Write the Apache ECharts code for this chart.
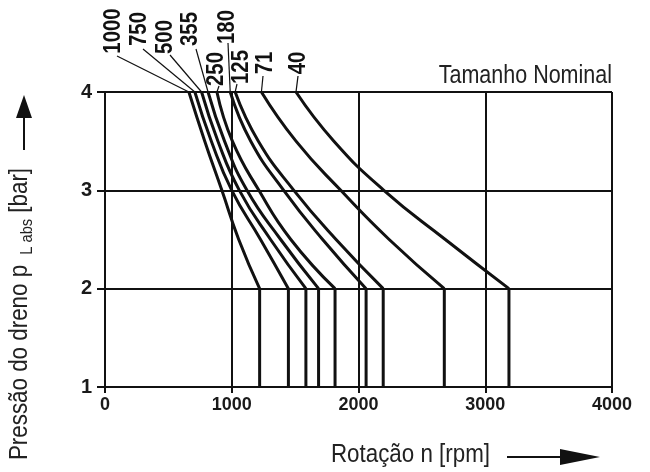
<!DOCTYPE html>
<html><head><meta charset="utf-8">
<script src="https://cdn.jsdelivr.net/npm/echarts@6/dist/echarts.min.js"></script>
<style>html,body{margin:0;padding:0;background:#fff}#c{width:650px;height:472px}</style>
</head><body><div id="c"></div>
<script>
// Nominal sizes (curve labels)
const sizes = ['1000', '750', '500', '355', '250', '180', '125', '71', '40'];
// Drain pressure levels (bar) at which curve speeds were read
const pressures = [4, 3.5, 3, 2.5, 2];
// Speed (rpm) of each curve at the pressure levels above
const n1000 = [662, 787, 922, 1055, 1220];
const n750  = [709, 839, 1000, 1227, 1447];
const n500  = [762, 891, 1060, 1306, 1585];
const n355  = [813, 943, 1120, 1386, 1685];
const n250  = [883, 1005, 1214, 1466, 1815];
const n180  = [988, 1150, 1410, 1717, 2060];
const n125  = [1027, 1210, 1490, 1823, 2195];
const n71   = [1234, 1507, 1860, 2242, 2677];
const n40   = [1507, 1806, 2200, 2685, 3187];
const curves = [n1000, n750, n500, n355, n250, n180, n125, n71, n40];
// Below 2 bar the max speed is constant down to 1 bar
const pressureBottom = 1;
const xMin = 0, xMax = 4000, xStep = 1000;
const yMin = 1, yMax = 4, yStep = 1;

// Layout of rotated labels (pixel centres) and start of their leader lines
const labelCenters = [[113,31],[139,29],[165,37],[190,29],[216,69],[227,27],[241,67],[265,63],[298,63]];
const leaderStarts = [[117,56],[143,49],[170,55],[196,49],[219,86],[228,43],[237,84],[263,76],[298,76]];

const FF = '"Liberation Sans", Arial, Helvetica, sans-serif';
const INK = '#111';
const COND = 0.86; // horizontal squeeze to imitate a condensed face

const chart = echarts.init(document.getElementById('c'), null, {renderer: 'canvas'});

const series = [];
curves.forEach((arr, i) => {
  series.push({
    type: 'line', name: sizes[i], smooth: 0.5, symbol: 'none', silent: true,
    lineStyle: {color: INK, width: 3},
    data: arr.map((n, k) => [n, pressures[k]])
  });
  const last = arr[arr.length - 1];
  series.push({
    type: 'line', name: sizes[i] + '-drop', symbol: 'none', silent: true,
    lineStyle: {color: INK, width: 3},
    data: [[last, pressures[pressures.length - 1]], [last, pressureBottom]]
  });
});

chart.setOption({
  animation: false,
  backgroundColor: '#fff',
  grid: {left: 105, right: 38, top: 92, bottom: 85, containLabel: false},
  xAxis: {
    type: 'value', min: xMin, max: xMax, interval: xStep,
    axisLine: {show: true, lineStyle: {color: INK, width: 2}},
    axisTick: {show: true, inside: false, length: 6, lineStyle: {color: INK, width: 2}},
    axisLabel: {color: '#1a1a1a', fontFamily: FF, fontWeight: 'bold', fontSize: 18, margin: 9,
      formatter: v => String(v)},
    splitLine: {show: true, lineStyle: {color: INK, width: 2}}
  },
  yAxis: {
    type: 'value', min: yMin, max: yMax, interval: yStep,
    axisLine: {show: true, lineStyle: {color: INK, width: 2}},
    axisTick: {show: true, inside: false, length: 8, lineStyle: {color: INK, width: 2}},
    axisLabel: {color: '#1a1a1a', fontFamily: FF, fontWeight: 'bold', fontSize: 20, margin: 13,
      formatter: v => String(v)},
    splitLine: {show: true, lineStyle: {color: INK, width: 2}}
  },
  series: series
});

const graphics = [];
sizes.forEach((s, i) => {
  const top = chart.convertToPixel({gridIndex: 0}, [curves[i][0], pressures[0]]);
  const st = leaderStarts[i];
  graphics.push({
    type: 'line', silent: true,
    shape: {x1: st[0], y1: st[1], x2: top[0], y2: top[1]},
    style: {stroke: INK, lineWidth: 1.2}
  });
  graphics.push({
    type: 'text', silent: true, x: labelCenters[i][0], y: labelCenters[i][1],
    rotation: Math.PI / 2, scaleX: 0.85,
    style: {text: s, fill: '#111', font: 'bold 24px ' + FF, align: 'center', verticalAlign: 'middle'}
  });
});
graphics.push({
  type: 'text', silent: true, x: 612, y: 76, scaleX: COND,
  style: {text: 'Tamanho Nominal', fill: '#222', font: '25px ' + FF, align: 'right', verticalAlign: 'middle'}
});
// x axis title and arrow
graphics.push({
  type: 'text', silent: true, x: 490, y: 455, scaleX: COND,
  style: {text: 'Rotação n [rpm]', fill: '#222', font: '26px ' + FF, align: 'right', verticalAlign: 'middle'}
});
graphics.push({type: 'line', silent: true, shape: {x1: 507, y1: 457, x2: 565, y2: 457}, style: {stroke: INK, lineWidth: 2}});
graphics.push({type: 'polygon', silent: true, shape: {points: [[560, 449], [560, 465], [600, 457]]}, style: {fill: INK}});
// y axis title and arrow
graphics.push({
  type: 'text', silent: true, x: 20, y: 314, rotation: Math.PI / 2, scaleX: COND,
  style: {
    text: '{a|Pressão do dreno p }{b| L abs}{a| [bar]}',
    align: 'center', verticalAlign: 'middle', fill: '#222',
    rich: {
      a: {font: '26px ' + FF, fill: '#222', lineHeight: 32, verticalAlign: 'middle'},
      b: {font: '17px ' + FF, fill: '#222', lineHeight: 32, verticalAlign: 'bottom'}
    }
  }
});
graphics.push({type: 'line', silent: true, shape: {x1: 24, y1: 150, x2: 24, y2: 112}, style: {stroke: INK, lineWidth: 2}});
graphics.push({type: 'polygon', silent: true, shape: {points: [[16, 118], [32, 118], [24, 95]]}, style: {fill: INK}});

chart.setOption({graphic: graphics});
</script>
</body></html>
